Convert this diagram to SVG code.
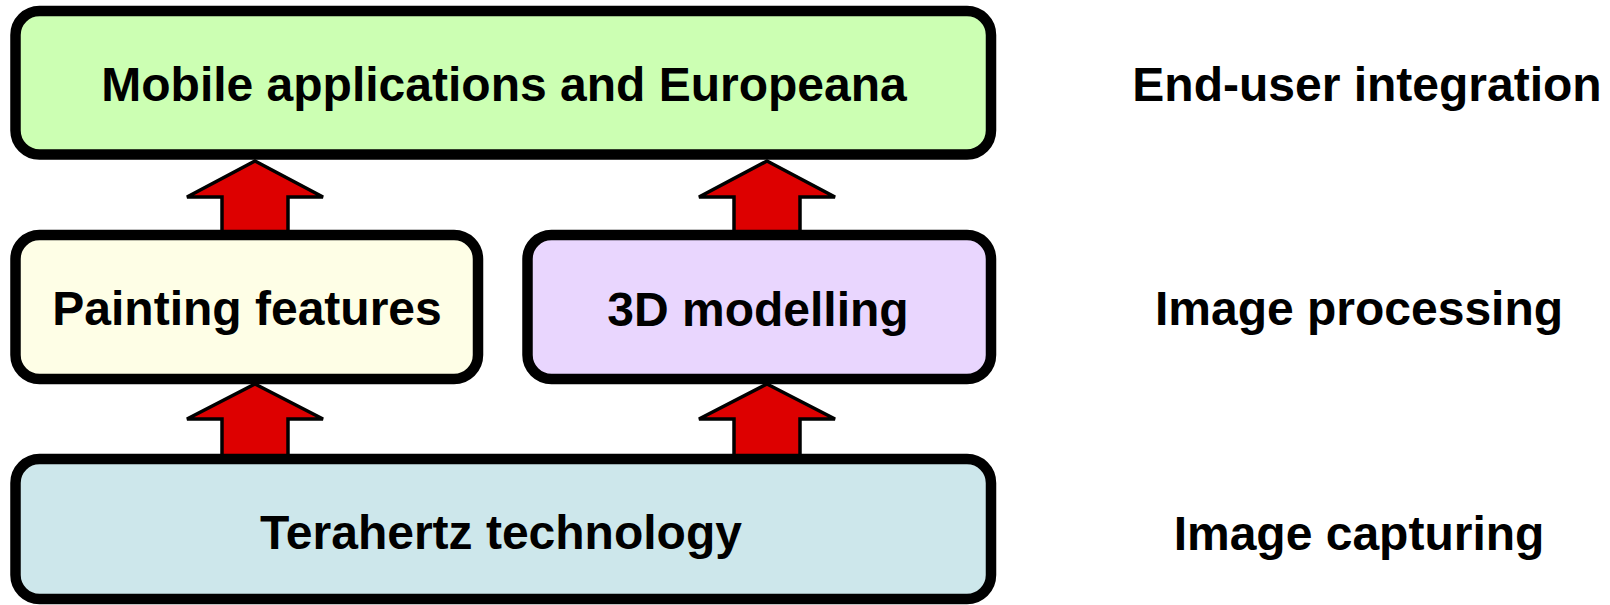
<svg xmlns="http://www.w3.org/2000/svg" width="1610" height="605" viewBox="0 0 1610 605">
<style>
.box{stroke:#000;stroke-width:10.5}
.t{font-family:"Liberation Sans",Arial,sans-serif;font-weight:bold;font-size:48px;fill:#000;text-anchor:middle}
.arr{fill:#dd0000;stroke:#000;stroke-width:3.5;stroke-linejoin:miter}
</style>
<rect width="1610" height="605" fill="#fff"/>
<g id="connectors">
<polygon class="arr" points="255,161 323,197 288,197 288,232 222,232 222,197 187,197"/>
<polygon class="arr" points="767,161 835,197 800,197 800,232 734,232 734,197 699,197"/>
<polygon class="arr" points="255,384 323,419 288,419 288,456 222,456 222,419 187,419"/>
<polygon class="arr" points="767,384 835,419 800,419 800,456 734,456 734,419 699,419"/>
</g>
<g id="node-top">
<rect class="box" x="15.5" y="11" width="975.5" height="143.5" rx="24" fill="#ccffb3"/>
<text class="t" x="504" y="101">Mobile applications and Europeana</text>
</g>
<g id="node-painting">
<rect class="box" x="15.5" y="235" width="462.5" height="144" rx="24" fill="#fefee6"/>
<text class="t" x="247" y="325">Painting features</text>
</g>
<g id="node-3d">
<rect class="box" x="527.5" y="235" width="463.5" height="144" rx="24" fill="#e9d6fe"/>
<text class="t" x="758" y="326">3D modelling</text>
</g>
<g id="node-bottom">
<rect class="box" x="15.5" y="459" width="975.5" height="140" rx="24" fill="#cde7eb"/>
<text class="t" x="501" y="549">Terahertz technology</text>
</g>
<g id="labels">
<text class="t" x="1367" y="101">End-user integration</text>
<text class="t" x="1359" y="325">Image processing</text>
<text class="t" x="1359" y="550">Image capturing</text>
</g>
</svg>
